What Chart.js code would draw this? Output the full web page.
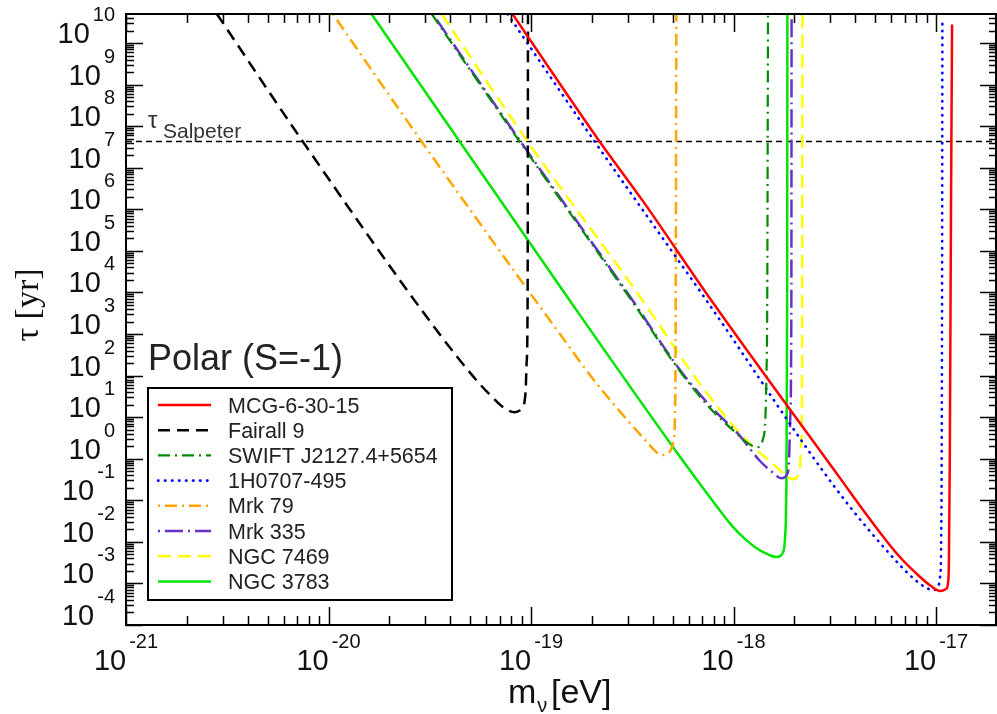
<!DOCTYPE html>
<html><head><meta charset="utf-8">
<script src="https://cdn.jsdelivr.net/npm/chart.js@4.4.1/dist/chart.umd.min.js"></script>
<style>html,body{margin:0;padding:0;background:#fff;overflow:hidden}</style>
</head><body>
<canvas id="c" width="997" height="714"></canvas>
<script>
// ---- data (m in eV, tau in yr) ----
const mcgMass = [8.1e-20, 2.18e-19, 3.55e-19, 7.76e-19, 3.33e-18, 4.67e-18, 6.56e-18, 8.24e-18, 9.44e-18, 1.047e-17, 1.12e-17, 1.146e-17, 1.158e-17, 1.17e-17, 1.186e-17, 1.2e-17];
const mcgTau  = [5e10, 4.3e7, 1.64e6, 6.5e3, 0.361, 0.0373, 4.56e-3, 1.51e-3, 8.66e-4, 6.56e-4, 7.33e-4, 1.02e-3, 3.65e-3, 1.6, 1.64e6, 2.8e10];
const fairallMass = [2.81e-21, 7.46e-21, 3.42e-20, 5.38e-20, 6.45e-20, 7.39e-20, 8.29e-20, 8.97e-20, 9.40e-20, 9.51e-20, 9.62e-20, 9.66e-20];
const fairallTau  = [5e10, 4.3e7, 1.23e3, 77, 30, 16.5, 13.2, 15.6, 40, 199, 6.5e3, 5e10];
const swiftMass = [3.23e-20, 8.77e-20, 3.13e-19, 5.39e-19, 7.58e-19, 1.032e-18, 1.196e-18, 1.31e-18, 1.40e-18, 1.435e-18, 1.452e-18, 1.467e-18, 1.48e-18];
const swiftTau  = [5e10, 4.3e7, 6.5e3, 135, 17.4, 4.1, 2.24, 1.9, 3.1, 8.5, 77, 6.5e3, 5e10];
const h0707Mass = [7.66e-20, 2.06e-19, 7.34e-19, 3.33e-18, 6.56e-18, 7.79e-18, 8.82e-18, 9.66e-18, 1.023e-17, 1.047e-17, 1.059e-17, 1.071e-17, 1.075e-17];
const h0707Tau  = [5e10, 4.3e7, 6.5e3, 0.149, 2.92e-3, 1.28e-3, 8.19e-4, 6.93e-4, 8.19e-4, 1.43e-3, 6.35e-3, 6.5e3, 3.1e10];
const mrk79Mass = [1.05e-20, 2.88e-20, 1.38e-19, 2.01e-19, 2.96e-19, 3.63e-19, 4.06e-19, 4.40e-19, 4.82e-19, 5.05e-19, 5.14e-19, 5.17e-19, 5.22e-19];
const mrk79Tau  = [5e10, 4.3e7, 1.04e3, 86.6, 8.96, 2.96, 1.61, 1.22, 1.44, 2.8, 11, 234, 5e10];
const mrk335Mass = [3.27e-20, 8.87e-20, 3.17e-19, 5.45e-19, 7.76e-19, 1.067e-18, 1.34e-18, 1.55e-18, 1.72e-18, 1.84e-18, 1.88e-18, 1.905e-18, 1.93e-18, 1.935e-18];
const mrk335Tau  = [5e10, 4.3e7, 6.5e3, 135, 17.4, 3.7, 0.92, 0.48, 0.34, 0.43, 0.92, 8.5, 6.5e3, 5e10];
const ngc7469Mass = [3.62e-20, 9.61e-20, 3.55e-19, 7.02e-19, 1.156e-18, 1.55e-18, 1.86e-18, 1.97e-18, 2.07e-18, 2.13e-18, 2.16e-18, 2.18e-18, 2.19e-18];
const ngc7469Tau  = [5e10, 4.3e7, 6.5e3, 52.6, 2.8, 0.78, 0.36, 0.32, 0.38, 0.66, 2.8, 77, 5e10];
const ngc3783Mass = [1.63e-20, 4.44e-20, 1.55e-19, 4.99e-19, 7.02e-19, 9.86e-19, 1.156e-18, 1.34e-18, 1.47e-18, 1.625e-18, 1.76e-18, 1.80e-18, 1.82e-18, 1.84e-18, 1.845e-18];
const ngc3783Tau  = [5e10, 4.3e7, 6.5e3, 2.0, 0.207, 0.024, 1.10e-2, 6.35e-3, 5.09e-3, 4.31e-3, 5.7e-3, 0.0146, 0.101, 6.5e3, 5e10];
const salpeterTau = 4.3e7;
const xRange = [1e-21, 2e-17];
const yRange = [1e-4, 5e10];
const xTickExps = [-21, -20, -19, -18, -17];
const yTickExps = [-4, -3, -2, -1, 0, 1, 2, 3, 4, 5, 6, 7, 8, 9, 10];
const seriesNames = ['MCG-6-30-15', 'Fairall 9', 'SWIFT J2127.4+5654', '1H0707-495', 'Mrk 79', 'Mrk 335', 'NGC 7469', 'NGC 3783'];

function pts(m, t) { return m.map((v, i) => ({x: v, y: t[i]})); }
function ds(label, m, t, color, width, dash, cap) {
  return {label, data: pts(m, t), borderColor: color, backgroundColor: color, borderWidth: width,
    borderDash: dash, borderCapStyle: cap || 'butt', borderJoinStyle: 'round', pointRadius: 0,
    fill: false, cubicInterpolationMode: 'monotone'};
}
const datasets = [
  ds(seriesNames[0], mcgMass, mcgTau, '#ff0000', 2.5, []),
  ds(seriesNames[1], fairallMass, fairallTau, '#000000', 2.5, [12, 7]),
  ds(seriesNames[2], swiftMass, swiftTau, '#008c00', 2.2, [12, 5, 2, 5]),
  ds(seriesNames[3], h0707Mass, h0707Tau, '#0000ff', 2.6, [0.5, 6.5], 'round'),
  ds(seriesNames[4], mrk79Mass, mrk79Tau, '#ffa500', 2.5, [2, 5, 12, 5]),
  ds(seriesNames[5], mrk335Mass, mrk335Tau, '#6a2fc8', 2.5, [2, 5, 18, 5]),
  ds(seriesNames[6], ngc7469Mass, ngc7469Tau, '#ffff00', 2.5, [13, 7]),
  ds(seriesNames[7], ngc3783Mass, ngc3783Tau, '#00e600', 2.5, []),
  {label: 'Salpeter', data: [{x: xRange[0], y: salpeterTau}, {x: xRange[1], y: salpeterTau}],
   borderColor: '#000', borderWidth: 1.5, borderDash: [6, 4], pointRadius: 0, fill: false}
];

function powLabel(ctx, exp, cx, baseY, align) {
  const bigF = '29px "Liberation Sans", Arial, sans-serif';
  const smF = '20px "Liberation Sans", Arial, sans-serif';
  ctx.font = bigF; const w1 = ctx.measureText('10').width;
  ctx.font = smF; const es = String(exp); const w2 = ctx.measureText(es).width;
  const gap = 3;
  const tot = w1 + gap + w2;
  const x0 = align === 'right' ? cx - tot : cx - tot / 2;
  ctx.textAlign = 'left'; ctx.textBaseline = 'alphabetic';
  ctx.font = bigF; ctx.fillText('10', x0, baseY);
  ctx.font = smF; ctx.fillText(es, x0 + w1 + gap, baseY - 22);
}

const decor = {
  id: 'decor',
  afterDraw(chart) {
    const ctx = chart.ctx, a = chart.chartArea, xs = chart.scales.x, ys = chart.scales.y;
    ctx.save();
    // ticks
    ctx.strokeStyle = '#000'; ctx.lineWidth = 1.5;
    ctx.beginPath();
    for (let e = -21; e <= -17; e++) for (let k = 1; k <= 9; k++) {
      const v = k * Math.pow(10, e); if (v < xRange[0] || v >= xRange[1]) continue;
      const p = Math.round(xs.getPixelForValue(v)) + 0.5; const L = k === 1 ? 18 : 9;
      ctx.moveTo(p, a.bottom); ctx.lineTo(p, a.bottom - L);
      ctx.moveTo(p, a.top); ctx.lineTo(p, a.top + L);
    }
    for (let e = -4; e <= 10; e++) for (let k = 1; k <= 9; k++) {
      const v = k * Math.pow(10, e); if (v < yRange[0] || v >= yRange[1]) continue;
      const p = Math.round(ys.getPixelForValue(v)) + 0.5; const L = k === 1 ? 17 : 8;
      ctx.moveTo(a.left, p); ctx.lineTo(a.left + L, p);
      ctx.moveTo(a.right, p); ctx.lineTo(a.right - L, p);
    }
    ctx.stroke();
    // frame
    ctx.lineWidth = 2; ctx.strokeRect(a.left, a.top, a.right - a.left - 1, a.bottom - a.top);
    // tick labels
    ctx.fillStyle = '#111';
    xTickExps.forEach(e => powLabel(ctx, e, xs.getPixelForValue(Math.pow(10, e)), 670, 'center'));
    yTickExps.forEach(e => powLabel(ctx, e, 115, ys.getPixelForValue(Math.pow(10, e)), 'right'));
    // axis titles
    ctx.textAlign = 'left';
    ctx.font = '34px "Liberation Sans", Arial, sans-serif';
    ctx.fillText('m', 508, 703);
    const mw = ctx.measureText('m').width;
    ctx.font = '20px "Liberation Sans", Arial, sans-serif';
    ctx.fillText('\u03bd', 508 + mw + 1, 712);
    ctx.font = '34px "Liberation Sans", Arial, sans-serif';
    ctx.fillText('[eV]', 551, 703);
    ctx.save();
    ctx.translate(38, 305); ctx.rotate(-Math.PI / 2);
    ctx.textAlign = 'center';
    ctx.font = '34px "Liberation Serif", "Times New Roman", serif';
    ctx.fillText('\u03c4 [yr]', 0, 0);
    ctx.restore();
    // tau Salpeter annotation
    ctx.fillStyle = '#333';
    ctx.font = '24px "Liberation Sans", Arial, sans-serif';
    ctx.fillText('\u03c4', 148, 128);
    ctx.font = '21px "Liberation Sans", Arial, sans-serif';
    ctx.fillText('Salpeter', 163, 138);
    // Polar label
    ctx.fillStyle = '#222';
    ctx.font = '36px "Liberation Sans", Arial, sans-serif';
    ctx.fillText('Polar (S=-1)', 148, 370);
    // legend
    ctx.fillStyle = '#fff';
    ctx.fillRect(148, 388, 304, 212);
    ctx.strokeStyle = '#000'; ctx.lineWidth = 2; ctx.setLineDash([]);
    ctx.strokeRect(148, 388, 304, 212);
    for (let i = 0; i < 8; i++) {
      const d = chart.data.datasets[i]; const y = 405 + i * 25.2;
      ctx.save();
      ctx.strokeStyle = d.borderColor; ctx.lineWidth = d.borderWidth;
      ctx.setLineDash(d.borderDash || []); ctx.lineCap = d.borderCapStyle || 'butt';
      ctx.beginPath(); ctx.moveTo(158, y); ctx.lineTo(211, y); ctx.stroke();
      ctx.restore();
      ctx.fillStyle = '#222';
      ctx.font = '21.5px "Liberation Sans", Arial, sans-serif';
      ctx.fillText(d.label, 228, y + 7.5);
    }
    ctx.restore();
  }
};

new Chart(document.getElementById('c'), {
  type: 'line',
  data: {datasets},
  options: {
    responsive: false, animation: false, devicePixelRatio: 1,
    layout: {padding: {left: 126, top: 14, right: 0, bottom: 89}},
    scales: {
      x: {type: 'logarithmic', min: xRange[0], max: xRange[1], display: false},
      y: {type: 'logarithmic', min: yRange[0], max: yRange[1], display: false}
    },
    plugins: {legend: {display: false}, tooltip: {enabled: false}}
  },
  plugins: [decor]
});
</script>
</body></html>
